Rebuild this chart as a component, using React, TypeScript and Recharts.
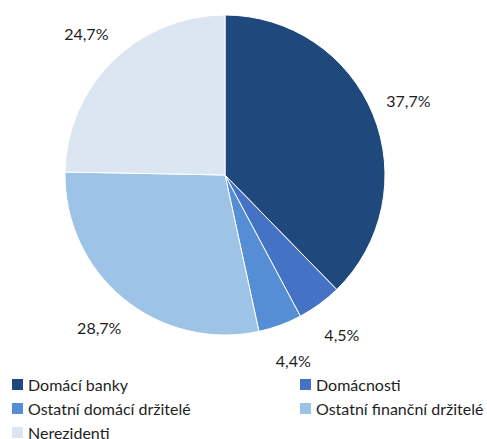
import React from 'react';
import { PieChart, Pie, Cell, Legend } from 'recharts';

const categories = ['Domácí banky', 'Domácnosti', 'Ostatní domácí držitelé', 'Ostatní finanční držitelé', 'Nerezidenti'];
const values = [37.7, 4.5, 4.4, 28.7, 24.7];
const colors = ['#1F497D', '#4472C4', '#558ED5', '#9DC3E6', '#DCE6F2'];

const data = categories.map((name, i) => ({ name, value: values[i] }));

const RAD = Math.PI / 180;
const FONT = 'Lato, "Open Sans", sans-serif';

const renderLabel = (props: any) => {
    const { cx, cy, midAngle, outerRadius, value } = props;
    const r = outerRadius + 38;
    const x = cx + r * Math.cos(-midAngle * RAD);
    const y = cy + r * Math.sin(-midAngle * RAD);
    return (
        <text x={x} y={y} textAnchor="middle" dominantBaseline="central" fill="#1e1e1e" fontSize={16} fontFamily={FONT}>
            {value.toFixed(1).replace('.', ',')}%
        </text>
    );
};

const renderLegend = () => (
    <div style={{ display: 'grid', gridTemplateColumns: '288px 200px', rowGap: 8, fontFamily: FONT, fontSize: 16, color: '#1e1e1e' }}>
        {data.map((d, i) => (
            <div key={d.name} style={{ display: 'flex', alignItems: 'center', height: 16, whiteSpace: 'nowrap' }}>
                <span style={{ width: 11, height: 11, background: colors[i], marginRight: 5, display: 'inline-block' }} />
                {d.name}
            </div>
        ))}
    </div>
);

export default function App() {
    return (
        <div style={{ position: 'absolute', left: 0, top: 0, background: '#fff' }}>
            <PieChart width={487} height={439}>
                <Pie
                    data={data}
                    dataKey="value"
                    cx={220}
                    cy={170}
                    outerRadius={160}
                    startAngle={90}
                    endAngle={-270}
                    stroke="#fff"
                    strokeWidth={1}
                    label={renderLabel}
                    labelLine={false}
                    isAnimationActive={false}
                >
                    {data.map((d, i) => (
                        <Cell key={d.name} fill={colors[i]} />
                    ))}
                </Pie>
                <Legend content={renderLegend} wrapperStyle={{ left: 12, top: 376, width: 480 }} />
            </PieChart>
        </div>
    );
}
